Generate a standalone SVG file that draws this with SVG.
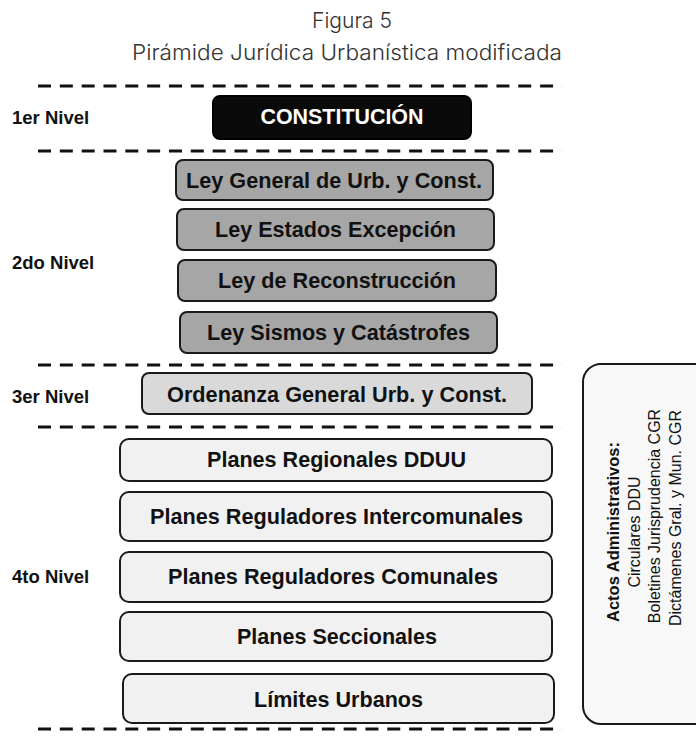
<svg xmlns="http://www.w3.org/2000/svg" width="696" height="737" viewBox="0 0 696 737">
<style>
.title{font-family:"Inter","Noto Sans",sans-serif;font-weight:300;font-size:22px;fill:#333;text-anchor:middle}
.lvl{font-family:"Liberation Sans",Arial,sans-serif;font-weight:bold;font-size:18.5px;fill:#111}
.bt{font-family:"Liberation Sans",Arial,sans-serif;font-weight:bold;font-size:21.5px;fill:#111;text-anchor:middle}
.box{stroke:#1a1a1a;stroke-width:2}
.g2{fill:#a6a6a6}
.g3{fill:#d9d9d9}
.g4{fill:#f1f1f1}
.dash{stroke:#111;stroke-width:3;stroke-dasharray:13 8.83;fill:none}
.rt{font-family:"Liberation Sans",Arial,sans-serif;font-size:16px;fill:#111;text-anchor:middle}
</style>
<text class="title" x="352" y="28" textLength="80" lengthAdjust="spacingAndGlyphs">Figura 5</text>
<text class="title" x="347" y="60" textLength="430" lengthAdjust="spacingAndGlyphs">Pirámide Jurídica Urbanística modificada</text>
<g id="separators">
<line class="dash" x1="38" y1="86" x2="562" y2="86"/>
<line class="dash" x1="38" y1="151" x2="562" y2="151"/>
<line class="dash" x1="38" y1="365" x2="562" y2="365"/>
<line class="dash" x1="38" y1="427" x2="562" y2="427"/>
<line class="dash" x1="38" y1="729" x2="562" y2="729"/>
</g>
<g id="levels">
<text class="lvl" x="12" y="124">1er Nivel</text>
<text class="lvl" x="12" y="269">2do Nivel</text>
<text class="lvl" x="12" y="403">3er Nivel</text>
<text class="lvl" x="12" y="583">4to Nivel</text>
</g>
<g id="constitucion">
<rect x="213" y="96" width="258" height="43" rx="7" fill="#0a0a0a" stroke="#000" stroke-width="2"/>
<text class="bt" x="342" y="124" style="fill:#fff" textLength="163" lengthAdjust="spacingAndGlyphs">CONSTITUCIÓN</text>
</g>
<g id="ley-general">
<rect class="box g2" x="176" y="160" width="317" height="40" rx="7"/>
<text class="bt" x="334" y="188" textLength="296" lengthAdjust="spacingAndGlyphs">Ley General de Urb. y Const.</text>
</g>
<g id="ley-estados">
<rect class="box g2" x="177" y="209" width="317" height="41" rx="7"/>
<text class="bt" x="335.5" y="237" textLength="241" lengthAdjust="spacingAndGlyphs">Ley Estados Excepción</text>
</g>
<g id="ley-reconstruccion">
<rect class="box g2" x="178" y="260" width="318" height="41" rx="7"/>
<text class="bt" x="337" y="288" textLength="238" lengthAdjust="spacingAndGlyphs">Ley de Reconstrucción</text>
</g>
<g id="ley-sismos">
<rect class="box g2" x="180" y="312" width="317" height="41" rx="7"/>
<text class="bt" x="338.5" y="340" textLength="263" lengthAdjust="spacingAndGlyphs">Ley Sismos y Catástrofes</text>
</g>
<g id="ordenanza">
<rect class="box g3" x="142" y="373" width="390" height="41" rx="7"/>
<text class="bt" x="337" y="402" textLength="340" lengthAdjust="spacingAndGlyphs">Ordenanza General Urb. y Const.</text>
</g>
<g id="planes-regionales">
<rect class="box g4" x="120" y="439" width="432" height="42" rx="9"/>
<text class="bt" x="336.5" y="467" textLength="259" lengthAdjust="spacingAndGlyphs">Planes Regionales DDUU</text>
</g>
<g id="planes-intercomunales">
<rect class="box g4" x="120" y="492" width="432" height="49" rx="9"/>
<text class="bt" x="336.5" y="524" textLength="373" lengthAdjust="spacingAndGlyphs">Planes Reguladores Intercomunales</text>
</g>
<g id="planes-comunales">
<rect class="box g4" x="120" y="552" width="432" height="50" rx="9"/>
<text class="bt" x="333" y="584" textLength="330" lengthAdjust="spacingAndGlyphs">Planes Reguladores Comunales</text>
</g>
<g id="planes-seccionales">
<rect class="box g4" x="120" y="612" width="432" height="49" rx="9"/>
<text class="bt" x="337" y="644" textLength="200" lengthAdjust="spacingAndGlyphs">Planes Seccionales</text>
</g>
<g id="limites-urbanos">
<rect class="box g4" x="123" y="674" width="431" height="49" rx="9"/>
<text class="bt" x="338.5" y="707" textLength="169" lengthAdjust="spacingAndGlyphs">Límites Urbanos</text>
</g>
<g id="actos-administrativos">
<rect x="583" y="364" width="130" height="360" rx="18" fill="#f8f8f8" stroke="#1a1a1a" stroke-width="2"/>
<text class="rt" transform="translate(619,532) rotate(-90)" style="font-weight:bold;font-size:16.5px">Actos Administrativos:</text>
<text class="rt" transform="translate(639.5,532) rotate(-90)">Circulares DDU</text>
<text class="rt" transform="translate(660,516) rotate(-90)">Boletines Jurisprudencia CGR</text>
<text class="rt" transform="translate(681,518) rotate(-90)">Dictámenes Gral. y Mun. CGR</text>
</g>
</svg>
